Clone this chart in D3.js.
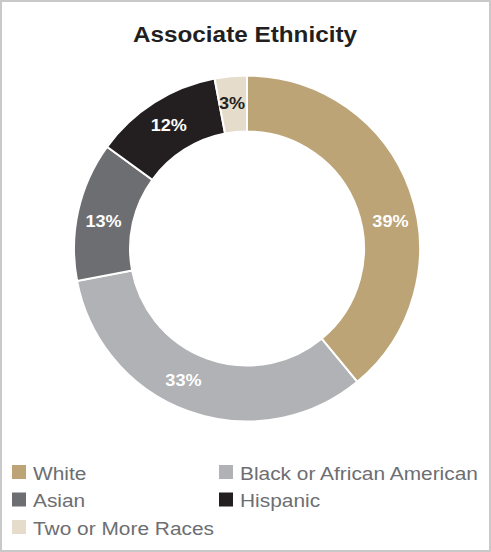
<!DOCTYPE html>
<html>
<head>
<meta charset="utf-8">
<script src="https://cdn.jsdelivr.net/npm/d3@7"></script>
<style>
  html, body { margin: 0; padding: 0; background: #fff; }
  svg { display: block; font-family: "Liberation Sans", Arial, sans-serif; }
</style>
</head>
<body>
<div id="container"></div>
<script>
// chart data
var categories = ['White', 'Black or African American', 'Asian', 'Hispanic', 'Two or More Races'];
var values = [39, 33, 13, 12, 3];
var colors = ['#bca477', '#b1b2b5', '#6d6e71', '#231f20', '#e6dccc'];
var labelColors = ['#fff', '#fff', '#fff', '#fff', '#231f20'];
// small hand nudges (degrees) so labels sit where the original put them
var labelTurn = [9, 6, -2, 0, -0.5];

var width = 491,
    height = 552,
    stretch = 1.13; // the original text is a bit wide

var svg = d3.select('div#container')
    .append('svg')
    .attr('width', width)
    .attr('height', height);

// frame
svg.append('rect')
    .attr('x', 1)
    .attr('y', 1)
    .attr('width', width - 2)
    .attr('height', height - 2)
    .attr('fill', '#fff')
    .attr('stroke', '#c9c9c9')
    .attr('stroke-width', 2);

svg.append('text')
    .attr('transform', 'translate(245,42) scale(' + stretch + ',1)')
    .attr('text-anchor', 'middle')
    .attr('font-size', 21.5)
    .attr('font-weight', 'bold')
    .attr('fill', '#231f20')
    .text('Associate Ethnicity');

var outerR = 173,
    innerR = 117,
    labelR = 146;

var pie = d3.pie().sort(null).value(function(d) { return d; });
var arc = d3.arc().innerRadius(innerR).outerRadius(outerR);

var g = svg.append('g')
    .attr('transform', 'translate(247,248.5)');

var slices = g.selectAll('g.slice')
    .data(pie(values))
    .enter().append('g')
    .attr('class', 'slice');

slices.append('path')
    .attr('d', arc)
    .attr('fill', function(d, i) { return colors[i]; })
    .attr('stroke', '#fff')
    .attr('stroke-width', 2);

slices.append('text')
    .attr('transform', function(d, i) {
        var a = (d.startAngle + d.endAngle) / 2 + labelTurn[i] * Math.PI / 180;
        return 'translate(' + [labelR * Math.sin(a), -labelR * Math.cos(a)] + ') scale(' + stretch + ',1)';
    })
    .attr('dy', '0.36em')
    .attr('text-anchor', 'middle')
    .attr('font-size', 16)
    .attr('font-weight', 'bold')
    .attr('fill', function(d, i) { return labelColors[i]; })
    .text(function(d) { return d.data + '%'; });

// legend, two columns
var legend = svg.append('g');
var items = legend.selectAll('g.item')
    .data(categories)
    .enter().append('g')
    .attr('class', 'item')
    .attr('transform', function(d, i) {
        var col = i % 2, row = Math.floor(i / 2);
        return 'translate(' + (12 + col * 207) + ',' + (465 + row * 27.5) + ')';
    });

items.append('rect')
    .attr('width', 14)
    .attr('height', 14)
    .attr('fill', function(d, i) { return colors[i]; });

items.append('text')
    .attr('transform', 'translate(21,14.5) scale(' + stretch + ',1)')
    .attr('font-size', 18.5)
    .attr('fill', '#6d6e71')
    .text(function(d) { return d; });
</script>
</body>
</html>
